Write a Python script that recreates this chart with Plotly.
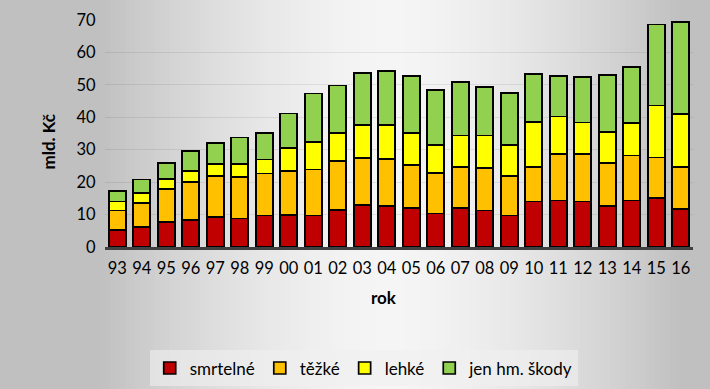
import plotly.graph_objects as go
import numpy as np

years = ["93", "94", "95", "96", "97", "98", "99", "00", "01", "02", "03", "04",
         "05", "06", "07", "08", "09", "10", "11", "12", "13", "14", "15", "16"]
smrtelne = [5.3, 6.1, 7.8, 8.4, 9.2, 8.8, 9.7, 9.8, 9.7, 11.5, 12.9, 12.7,
            12.1, 10.3, 12.1, 11.3, 9.7, 14.0, 14.3, 14.0, 12.6, 14.3, 15.2, 11.7]
tezke = [6.0, 7.5, 10.1, 11.6, 12.7, 12.8, 13.0, 13.7, 14.2, 15.1, 14.6, 14.5,
         13.2, 12.5, 12.6, 13.1, 12.3, 10.7, 14.4, 14.7, 13.2, 13.9, 12.4, 13.0]
lehke = [2.7, 3.1, 3.1, 3.5, 3.7, 3.9, 4.3, 7.1, 8.5, 8.6, 10.1, 10.4,
         9.9, 8.7, 9.7, 10.0, 9.5, 13.8, 11.5, 9.7, 9.7, 10.1, 16.0, 16.4]
jen_hm = [3.3, 4.1, 4.9, 6.2, 6.5, 8.3, 8.2, 10.6, 14.9, 14.6, 16.0, 16.6,
          17.5, 17.0, 16.5, 14.9, 15.9, 14.8, 12.5, 14.0, 17.5, 17.2, 25.0, 28.3]

series = [
    ("smrtelné", smrtelne, "#C00000"),
    ("těžké", tezke, "#FFC000"),
    ("lehké", lehke, "#FFFF00"),
    ("jen hm. škody", jen_hm, "#92D050"),
]

W, H = 710, 389
ML, MR, MT, MB = 105, 17, 20, 142
PW = W - ML - MR
PH = H - MT - MB

fig = go.Figure()
for name, vals, col in series:
    fig.add_trace(go.Bar(
        x=years, y=vals, name=name,
        marker=dict(color=col, line=dict(color="#000000", width=1.7)),
    ))

# background gradient (decorative strips)
shapes = []
step = 5
center = 390
for px in range(0, W, step):
    t = min(abs(px + step / 2 - center) / 290.0, 1.0)
    v = int(round(245 - 53 * t ** 1.6))
    shapes.append(dict(
        type="rect", xref="paper", yref="paper",
        x0=(px - ML) / PW, x1=(px + step + 1 - ML) / PW,
        y0=-(MB + 2) / PH, y1=1 + (MT + 2) / PH,
        fillcolor=f"rgb({v},{v},{v})", line=dict(width=0), layer="below",
    ))

fig.update_layout(
    width=W, height=H,
    margin=dict(l=ML, r=MR, t=MT, b=MB, autoexpand=False),
    paper_bgcolor="#C0C0C0",
    plot_bgcolor="rgba(0,0,0,0)",
    barmode="stack",
    bargap=0.3,
    font=dict(family="Lato, Carlito, sans-serif", color="#000000"),
    shapes=shapes,
    showlegend=True,
    legend=dict(
        orientation="h", x=0.44, y=-0.535, xanchor="center", yanchor="middle",
        font=dict(size=17), bgcolor="rgba(240,240,240,0.6)",
        itemwidth=30, traceorder="normal",
    ),
    xaxis=dict(
        type="category", range=[-0.5, 23.5],
        tickfont=dict(size=16.5), ticks="outside", ticklen=4,
        tickcolor="rgba(0,0,0,0)",
        showline=True, linecolor="#404040", linewidth=3,
        showgrid=False,
    ),
    yaxis=dict(
        range=[0, 70], dtick=10,
        tickfont=dict(size=16.5), ticks="outside", ticklen=5,
        tickcolor="rgba(0,0,0,0)",
        showgrid=True, gridcolor="rgba(0,0,0,0.08)", gridwidth=1,
        zeroline=False, showline=False,
    ),
    annotations=[
        dict(text="<b>mld. Kč</b>", xref="paper", yref="paper",
             x=(48 - ML) / PW, y=(246.5 - 141) / PH, showarrow=False,
             textangle=-90, font=dict(size=17), xanchor="center", yanchor="middle"),
        dict(text="<b>rok</b>", xref="paper", yref="paper",
             x=(384 - ML) / PW, y=(246.5 - 297) / PH, showarrow=False,
             font=dict(size=17), xanchor="center", yanchor="middle"),
    ],
)

fig.write_html(
    "out.html",
    config={"displayModeBar": False},
    post_script="document.body.style.margin='0';document.body.style.overflow='hidden';",
)
